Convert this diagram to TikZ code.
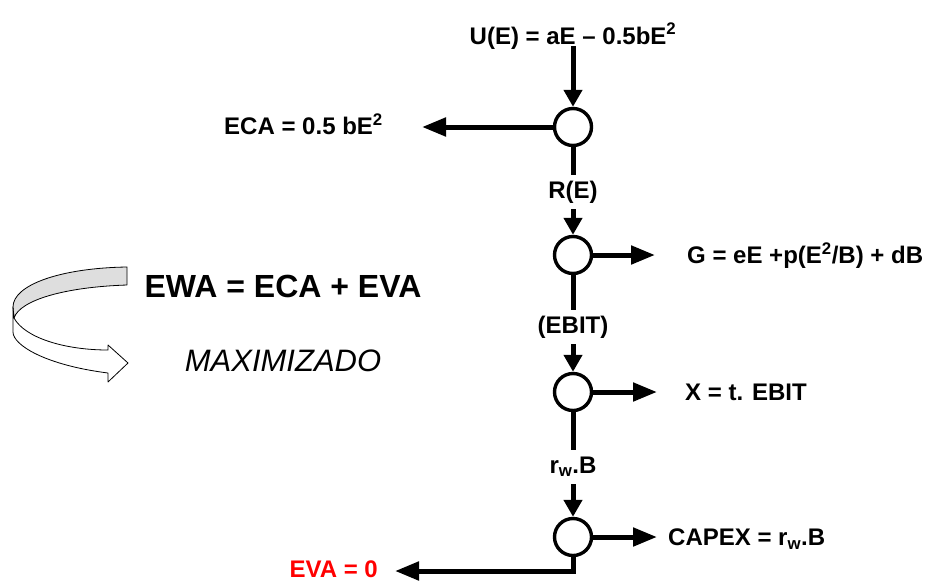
\documentclass[tikz,border=0pt]{standalone}
\usepackage{fontspec}
\setmainfont{Liberation Sans}
\usepackage{xcolor}
\usepackage{tikz}
\usetikzlibrary{arrows.meta, positioning}
\definecolor{ZeroRed}{RGB}{255, 0, 0}
\definecolor{RibbonGray}{RGB}{222, 222, 222}

\tikzset{
  flow/.style={line width=5pt},
  downflow/.style={flow, -{Triangle[length=17pt, width=18pt]}},
  sideflow/.style={flow, -{Triangle[length=24pt, width=18pt]}},
  junction/.style={circle, draw, line width=3.4pt, minimum size=37pt, inner sep=0pt, fill=white},
  eqn/.style={font=\fontsize{24}{28}\selectfont\bfseries, inner sep=0pt, text height=17pt, text depth=0pt},
  midlabel/.style={eqn, inner ysep=6pt, text depth=5pt},
  ribbon/.style={line width=0.8pt, line join=round}
}

\begin{document}
\begin{tikzpicture}[x=1pt, y=-1pt]
  \useasboundingbox (0,0) rectangle (925,581);

  % junctions of the flow
  \node[junction] (c1) at (573,127) {};
  \node[junction] (c2) at (573,255) {};
  \node[junction] (c3) at (573,392) {};
  \node[junction] (c4) at (573,537) {};

  % labels on the main line
  \node[eqn, anchor=base, inner ysep=2pt] (u) at (573,44) {U(E) = aE -- 0.5bE\textsuperscript{2}};
  \node[midlabel, anchor=base] (re) at (573,198) {R(E)};
  \node[midlabel, anchor=base] (ebit) at (573,333) {(EBIT)};
  \node[midlabel, anchor=base] (rwb) at (573,473) {r\textsubscript{w}.B};

  % arrow ends
  \coordinate (ecatip) at (422,127);
  \coordinate (gtip) at (655,255);
  \coordinate (xtip) at (657,392);
  \coordinate (captip) at (657,537);
  \coordinate (evatip) at (395,571);

  % side labels
  \node[eqn, anchor=east] (eca) at (383,126) {ECA = 0.5 bE\textsuperscript{2}};
  \node[eqn, right=32pt of gtip] (g) {G = eE +p(E\textsuperscript{2}/B) + dB};
  \node[eqn, right=28pt of xtip] (xl) {X = t. EBIT};
  \node[eqn, right=11pt of captip] (capex) {CAPEX = r\textsubscript{w}.B};
  \node[eqn, anchor=east, text=ZeroRed] (eva) at (378,569) {EVA = 0};

  % connectors
  \draw[downflow] (u) -- (c1);
  \draw[flow] (c1) -- (re);
  \draw[downflow] (re) -- (c2);
  \draw[flow] (c2) -- (ebit);
  \draw[downflow] (ebit) -- (c3);
  \draw[flow] (c3) -- (rwb);
  \draw[downflow] (rwb) -- (c4);
  \draw[sideflow] (c1) -- (ecatip);
  \draw[sideflow] (c2) -- (gtip);
  \draw[sideflow] (c3) -- (xtip);
  \draw[sideflow] (c4) -- (captip);
  \draw[sideflow] (c4) |- (evatip);

  % objective
  \node[font=\fontsize{32}{36}\selectfont\bfseries, anchor=base] (ewa) at (283,297) {EWA = ECA + EVA};
  \node[font=\fontsize{31}{35}\selectfont\itshape, anchor=base] (maxi) at (283,371) {MAXIMIZADO};

  % curved ribbon arrow
  \filldraw[ribbon, fill=RibbonGray] (127,267) .. controls (60,268) and (13,285) .. (13,307)
    -- (14,318) .. controls (20,300) and (65,287) .. (127,285) -- cycle;
  \filldraw[ribbon, fill=white] (14,318) .. controls (25,338) and (65,350) .. (108,350)
    -- (108,345) -- (128,363) -- (108,382) -- (108,373)
    .. controls (45,365) and (13,345) .. (13,332) -- (13,307) -- (14,318);
\end{tikzpicture}
\end{document}
